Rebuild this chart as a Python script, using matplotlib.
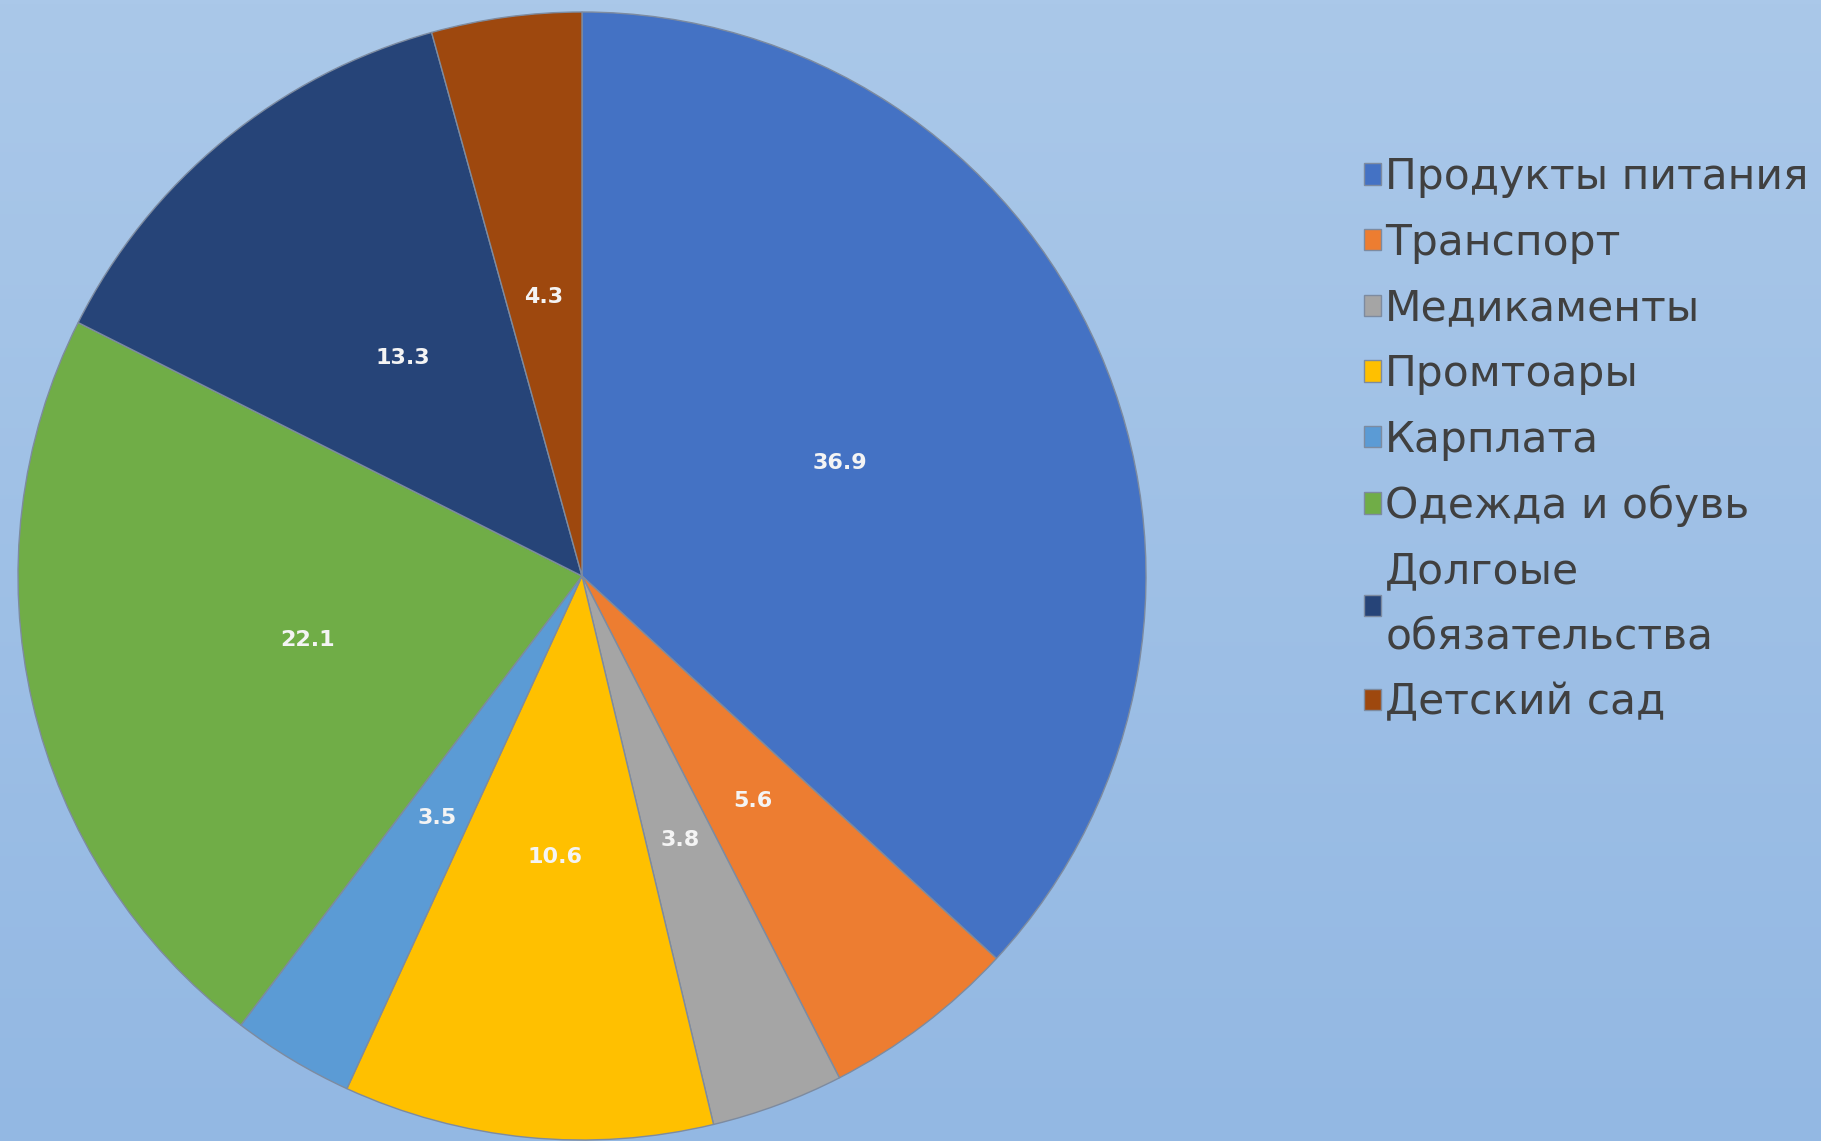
import numpy as np
import matplotlib
matplotlib.use("Agg")
import matplotlib.pyplot as plt
from matplotlib.colors import LinearSegmentedColormap

categories = ["Продукты питания", "Транспорт", "Медикаменты", "Промтоары",
              "Карплата", "Одежда и обувь", "Долгоые\nобязательства", "Детский сад"]
values = [36.9, 5.6, 3.8, 10.6, 3.5, 22.1, 13.3, 4.3]
value_labels = ["36.9", "5.6", "3.8", "10.6", "3.5", "22.1", "13.3", "4.3"]
colors = ["#4472C4", "#ED7D31", "#A5A5A5", "#FFC000", "#5B9BD5", "#70AD47", "#264478", "#9E480E"]

W, H = 1821, 1141
fig = plt.figure(figsize=(W / 100, H / 100), dpi=100)

# background gradient
bg = fig.add_axes([0, 0, 1, 1], zorder=-10)
cmap = LinearSegmentedColormap.from_list("bg", ["#aac8e9", "#93b8e3"])
bg.imshow(np.linspace(0, 1, 256).reshape(-1, 1), aspect="auto", cmap=cmap, extent=[0, 1, 0, 1])
bg.set_axis_off()

cx, cy, r = 582, 576, 564
ax = fig.add_axes([(cx - r) / W, (H - cy - r) / H, 2 * r / W, 2 * r / H])
ax.set_facecolor("none")
wedges, _ = ax.pie(values, colors=colors, startangle=90, counterclock=False, radius=1,
                   wedgeprops=dict(edgecolor="#7d8ba0", linewidth=1.0))
# value labels at half radius
total = sum(values)
ang = 90.0
for v, lab in zip(values, value_labels):
    mid = ang - v / total * 360 / 2
    ang -= v / total * 360
    x = 0.5 * np.cos(np.radians(mid))
    y = 0.5 * np.sin(np.radians(mid))
    ax.text(x, y, lab, ha="center", va="center", fontsize=16, fontweight="bold",
            color="#f4f4f4", family="DejaVu Sans")
ax.set_xlim(-1.0, 1.0)
ax.set_ylim(-1.0, 1.0)
ax.set_aspect("equal")
ax.set_axis_off()

leg = fig.legend(wedges, categories, loc="upper left",
                 bbox_to_anchor=(1364 / W, 1 - 156 / H), frameon=False,
                 handlelength=0.4, handleheight=0.4, handletextpad=0.1,
                 labelspacing=0.56, borderaxespad=0, borderpad=0,
                 prop=dict(family="DejaVu Sans", size=30.5))
for t in leg.get_texts():
    t.set_color("#404040")
    t.set_linespacing(1.7)

fig.savefig("out.png", dpi=100)
